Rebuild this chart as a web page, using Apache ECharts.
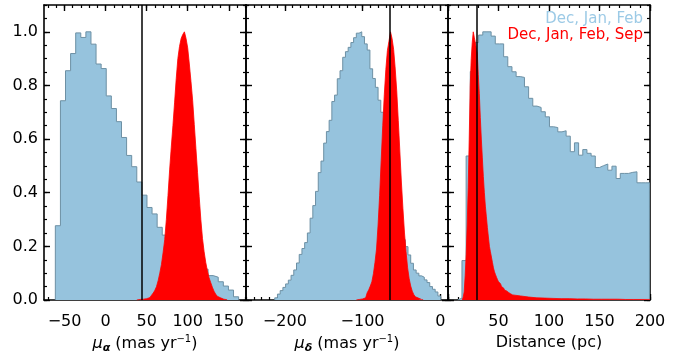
<!DOCTYPE html>
<html>
<head>
<meta charset="utf-8">
<script src="https://cdn.jsdelivr.net/npm/echarts@6/dist/echarts.min.js"></script>
<style>
html, body { margin: 0; padding: 0; background: #fff; }
#grafico { width: 680px; height: 354px; }
</style>
</head>
<body>
<div id="grafico"></div>
<script>
// Histogramas normalizados

// Panel 1: mu_alpha
var azul1Inicio = -61.2, azul1Ancho = 6.2;
var azul1 = [0.277, 0.743, 0.855, 0.919, 0.996, 0.979, 1.0, 0.954, 0.880, 0.863, 0.761, 0.714,
    0.665, 0.606, 0.539, 0.497, 0.440, 0.391, 0.345, 0.321, 0.271, 0.242, 0.215, 0.19,
    0.175, 0.16, 0.15, 0.14, 0.13, 0.115, 0.091, 0.085, 0.068, 0.052, 0.037, 0.012];
var rojo1Inicio = 38, rojo1Ancho = 2;
var rojo1 = [0.001, 0.002, 0.002, 0.003, 0.004, 0.005, 0.006, 0.009, 0.013, 0.018, 0.026, 0.036,
    0.050, 0.072, 0.100, 0.132, 0.176, 0.225, 0.300, 0.390, 0.485, 0.570, 0.650, 0.735,
    0.825, 0.900, 0.945, 0.975, 0.99, 1.0, 0.975, 0.94, 0.88, 0.815, 0.745, 0.655,
    0.565, 0.475, 0.385, 0.300, 0.230, 0.180, 0.140, 0.108, 0.083, 0.065, 0.048, 0.033,
    0.022, 0.014, 0.008, 0.005, 0.003, 0.002, 0.001];

// Panel 2: mu_delta
var azul2Inicio = -213, azul2Ancho = 3.5;
var azul2 = [0.008, 0.022, 0.035, 0.047, 0.060, 0.074, 0.092, 0.112, 0.138, 0.170, 0.192, 0.214,
    0.250, 0.305, 0.352, 0.405, 0.475, 0.518, 0.585, 0.628, 0.670, 0.740, 0.764, 0.825,
    0.855, 0.905, 0.926, 0.942, 0.960, 0.978, 0.995, 1.0, 0.982, 0.955, 0.932, 0.862,
    0.826, 0.793, 0.745, 0.70, 0.64, 0.58, 0.51, 0.45, 0.38, 0.32, 0.265, 0.225,
    0.199, 0.168, 0.137, 0.112, 0.100, 0.090, 0.085, 0.075, 0.065, 0.050, 0.040, 0.030, 0.015];
var rojo2Inicio = -108, rojo2Ancho = 2;
var rojo2 = [0.001, 0.002, 0.003, 0.004, 0.005, 0.008, 0.015, 0.027, 0.038, 0.052, 0.068, 0.098,
    0.140, 0.190, 0.280, 0.390, 0.520, 0.650, 0.765, 0.860, 0.930, 0.965, 1.0, 0.975,
    0.935, 0.865, 0.780, 0.670, 0.555, 0.440, 0.340, 0.250, 0.180, 0.120, 0.080, 0.052,
    0.033, 0.020, 0.012, 0.007, 0.004, 0.002, 0.001];

// Panel 3: distancia
var azul3Inicio = 9.7, azul3Ancho = 4.125;
var azul3 = [0.007, 0.147, 0.537, 0.852, 0.96, 0.988, 1.0, 1.0, 0.984, 0.955, 0.955, 0.907,
    0.87, 0.851, 0.833, 0.830, 0.795, 0.752, 0.723, 0.718, 0.702, 0.683, 0.646, 0.643,
    0.627, 0.631, 0.611, 0.553, 0.586, 0.540, 0.561, 0.547, 0.537, 0.494, 0.501, 0.507,
    0.484, 0.499, 0.453, 0.472, 0.472, 0.476, 0.478, 0.437, 0.437, 0.437];
var rojo3Inicio = 14, rojo3Ancho = 1;
var rojo3 = [0.003, 0.01, 0.03, 0.09, 0.17, 0.28, 0.42, 0.60, 0.80, 0.90, 0.96, 1.0,
    0.98, 0.96, 0.94, 0.92, 0.84, 0.77, 0.68, 0.60, 0.53, 0.46, 0.40, 0.35,
    0.31, 0.27, 0.235, 0.20, 0.18, 0.16, 0.14, 0.12, 0.105, 0.095, 0.085, 0.076,
    0.068, 0.061, 0.055, 0.050, 0.045, 0.041, 0.037, 0.034, 0.031, 0.028, 0.025, 0.023,
    0.021, 0.019];
var rojo3ColaAncho = 8;
var rojo3Cola = [0.015, 0.011, 0.008, 0.007, 0.006, 0.005, 0.005, 0.004, 0.004, 0.003, 0.003,
    0.003, 0.003, 0.002, 0.002, 0.002, 0.002];

// Líneas verticales
var marcas = [44, -64.8, 28.5];

// Ejes
var rangosX = [[-75, 171], [-250, 10], [0, 200]];
var mayoresX = [[-50, 0, 50, 100, 150], [-200, -100, 0], [0, 50, 100, 150, 200]];
var etiquetasX = [[-50, 0, 50, 100, 150], [-200, -100, 0], [50, 100, 150, 200]];
var pasoMenorX = [10, 10, 10];
var mayoresY = [0, 0.2, 0.4, 0.6, 0.8, 1.0];
var leyenda = ['Dec, Jan, Feb', 'Dec, Jan, Feb, Sep'];

var AZUL = '#96c3dd', BORDE_AZUL = '#6d90a4', ROJO = '#ff0000';
var FUENTE = 'DejaVu Sans';

function histograma(tramos) {
    // tramos: [[inicio, ancho, valores], ...] consecutivos
    var pts = [[tramos[0][0], 0]];
    var fin = 0;
    tramos.forEach(function (t) {
        t[2].forEach(function (v, i) { pts.push([t[0] + i * t[1], v]); });
        fin = t[0] + t[2].length * t[1];
    });
    pts.push([fin, 0]);
    return pts;
}

function menores(min, max, paso) {
    var r = [];
    for (var v = Math.ceil(min / paso) * paso; v <= max + 1e-9; v += paso) r.push(Math.round(v * 1000) / 1000);
    return r;
}

function menos(v) { return String(v).replace('-', '\u2212'); }

var nombresX = [
    '{mu|\u03bc}{sub|\u03b1} (mas yr{sup|\u22121})',
    '{mu|\u03bc}{sub|\u03b4} (mas yr{sup|\u22121})',
    'Distance (pc)'
];
var richNombre = {
    mu: { fontFamily: FUENTE, fontSize: 16, fontStyle: 'italic', color: '#000' },
    sub: { fontFamily: FUENTE, fontSize: 11, fontStyle: 'italic', fontWeight: 'bold', color: '#000', padding: [9, 0, 0, 0] },
    sup: { fontFamily: FUENTE, fontSize: 10, color: '#000', padding: [0, 0, 7, 0] }
};

var grids = [], xAxes = [], yAxes = [], series = [];
var lineaEje = { show: true, onZero: false, lineStyle: { color: '#000', width: 1.6 } };
var sinLinea = { show: false, onZero: false };

for (var i = 0; i < 3; i++) {
    grids.push({ left: 44 + 202 * i, top: 5, width: 202, height: 295, outerBoundsMode: 'none', containLabel: false });
    var mn = rangosX[i][0], mx = rangosX[i][1];
    var menX = menores(mn, mx, pasoMenorX[i]);
    var menY = menores(0, 1.1, 0.05);
    ['bottom', 'top'].forEach(function (pos) {
        xAxes.push({
            type: 'value', gridIndex: i, min: mn, max: mx, position: pos,
            axisLine: lineaEje,
            axisTick: { inside: true, length: 6, customValues: mayoresX[i], lineStyle: { color: '#000', width: 1.4 } },
            axisLabel: pos === 'bottom' ? {
                customValues: etiquetasX[i], margin: 14, color: '#000', fontFamily: FUENTE, fontSize: 16,
                formatter: menos
            } : { show: false },
            splitLine: { show: false },
            name: pos === 'bottom' ? nombresX[i] : '',
            nameLocation: 'middle', nameGap: 33,
            nameTextStyle: { fontFamily: FUENTE, fontSize: 16, color: '#000', rich: richNombre }
        });
        xAxes.push({
            type: 'value', gridIndex: i, min: mn, max: mx, position: pos,
            axisLine: sinLinea,
            axisTick: { inside: true, length: 3, customValues: menX, lineStyle: { color: '#000', width: 1.2 } },
            axisLabel: { show: false }, splitLine: { show: false }
        });
    });
    ['left', 'right'].forEach(function (pos) {
        yAxes.push({
            type: 'value', gridIndex: i, min: 0, max: 1.1, position: pos,
            axisLine: lineaEje,
            axisTick: { inside: true, length: 6, customValues: mayoresY, lineStyle: { color: '#000', width: 1.4 } },
            axisLabel: (i === 0 && pos === 'left') ? {
                customValues: mayoresY, margin: 6, color: '#000', fontFamily: FUENTE, fontSize: 16,
                formatter: function (v) { return v.toFixed(1); }
            } : { show: false },
            splitLine: { show: false }
        });
        yAxes.push({
            type: 'value', gridIndex: i, min: 0, max: 1.1, position: pos,
            axisLine: sinLinea,
            axisTick: { inside: true, length: 3, customValues: menY, lineStyle: { color: '#000', width: 1.2 } },
            axisLabel: { show: false }, splitLine: { show: false }
        });
    });
}

var datosAzul = [
    histograma([[azul1Inicio, azul1Ancho, azul1]]),
    histograma([[azul2Inicio, azul2Ancho, azul2]]),
    histograma([[azul3Inicio, azul3Ancho, azul3]])
];
var datosRojo = [
    histograma([[rojo1Inicio, rojo1Ancho, rojo1]]),
    histograma([[rojo2Inicio, rojo2Ancho, rojo2]]),
    histograma([[rojo3Inicio, rojo3Ancho, rojo3],
        [rojo3Inicio + rojo3.length * rojo3Ancho, rojo3ColaAncho, rojo3Cola]])
];

for (var k = 0; k < 3; k++) {
    series.push({
        type: 'line', name: leyenda[0], step: 'end', xAxisIndex: k * 4, yAxisIndex: k * 4,
        data: datosAzul[k], showSymbol: false, silent: true, z: 2,
        lineStyle: { color: BORDE_AZUL, width: 1 },
        areaStyle: { color: AZUL, opacity: 1 }
    });
    series.push({
        type: 'line', name: leyenda[1], step: 'end', xAxisIndex: k * 4, yAxisIndex: k * 4,
        data: datosRojo[k], showSymbol: false, silent: true, z: 3,
        lineStyle: { color: ROJO, width: 0.8 },
        areaStyle: { color: ROJO, opacity: 1 },
        markLine: {
            silent: true, symbol: 'none', label: { show: false },
            lineStyle: { color: '#000', width: 1.5, type: 'solid' },
            data: [{ xAxis: marcas[k] }]
        }
    });
}

var grafico = echarts.init(document.getElementById('grafico'), null, { renderer: 'canvas' });
grafico.setOption({
    animation: false,
    backgroundColor: '#fff',
    grid: grids,
    xAxis: xAxes,
    yAxis: yAxes,
    series: series,
    graphic: [
        { type: 'text', right: 37, top: 12, style: { text: leyenda[0], fill: '#9ccae6', font: '15px "DejaVu Sans"' } },
        { type: 'text', right: 37, top: 28, style: { text: leyenda[1], fill: ROJO, font: '15px "DejaVu Sans"' } }
    ]
});
</script>
</body>
</html>
